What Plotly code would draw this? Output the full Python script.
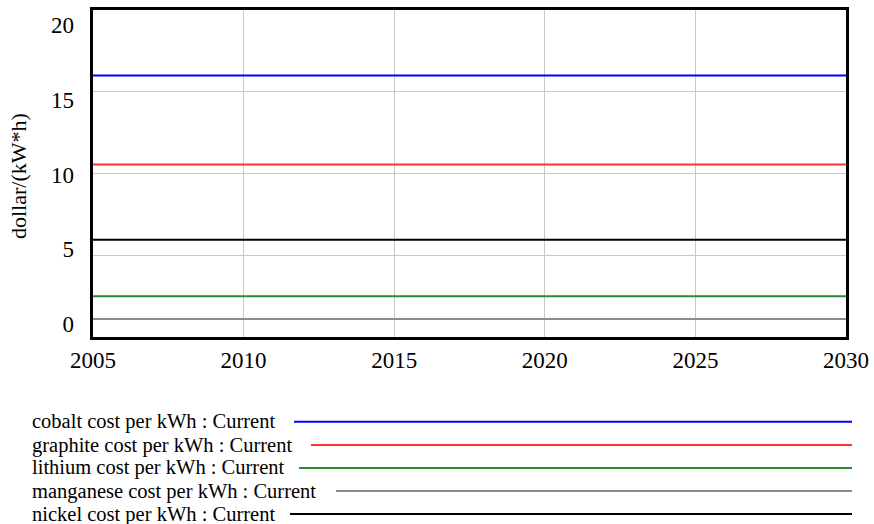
import plotly.graph_objects as go

# Simulation time span (constant runs over the whole horizon)
years = [2005, 2030]

# Material cost per kWh, dollar/(kW*h), run "Current"
series_names = [
    "cobalt cost per kWh : Current",
    "graphite cost per kWh : Current",
    "lithium cost per kWh : Current",
    "manganese cost per kWh : Current",
    "nickel cost per kWh : Current",
]
cobalt = [16.0, 16.0]
graphite = [10.55, 10.55]
lithium = [2.5, 2.5]
manganese = [1.1, 1.1]
nickel = [5.95, 5.95]

x_ticks = [2005, 2010, 2015, 2020, 2025, 2030]
y_ticks = [0, 5, 10, 15, 20]

colors = ["#0000ff", "#ff3333", "#2a8c2a", "#8c8c8c", "#000000"]
values = [cobalt, graphite, lithium, manganese, nickel]

W, H = 874, 524
M_L, M_R, M_T, M_B = 93, 28, 10, 187
PW, PH = W - M_L - M_R, H - M_T - M_B
FONT = "Liberation Serif"


def px_x(px):
    return (px - M_L) / PW


def px_y(py):
    return (H - M_B - py) / PH


fig = go.Figure()
for name, ys, col in zip(series_names, values, colors):
    fig.add_trace(go.Scatter(x=years, y=ys, mode="lines", name=name,
                             line=dict(color=col, width=2), showlegend=False))

# helper trace so the label axis is drawn
fig.add_trace(go.Scatter(x=[], y=[], yaxis="y2", showlegend=False, hoverinfo="skip"))

fig.update_layout(
    width=W, height=H,
    margin=dict(l=M_L, r=M_R, t=M_T, b=M_B, autoexpand=False),
    paper_bgcolor="white", plot_bgcolor="white",
    font=dict(family=FONT, color="black"),
    xaxis=dict(range=[2005, 2030], tickvals=x_ticks, ticktext=[str(v) for v in x_ticks],
               showgrid=True, gridcolor="#c8c8c8", gridwidth=1, zeroline=False,
               showline=True, linecolor="black", linewidth=3, mirror=True, automargin=False,
               ticks="", tickfont=dict(size=23, family=FONT), ticklabelstandoff=0),
    yaxis=dict(range=[0, 20], tickvals=y_ticks, showticklabels=False, automargin=False,
               showgrid=True, gridcolor="#c8c8c8", gridwidth=1, zeroline=False,
               showline=True, linecolor="black", linewidth=3, mirror=True, ticks=""),
    yaxis2=dict(overlaying="y", side="left", range=[-0.87, 21.0], tickvals=y_ticks,
                ticktext=[str(v) for v in y_ticks], showgrid=False, zeroline=False,
                showline=False, ticks="", tickfont=dict(size=23, family=FONT),
                ticklabelstandoff=18, automargin=False),
)

# y-axis title
fig.add_annotation(text="dollar/(kW*h)", xref="paper", yref="paper",
                   x=px_x(18), y=px_y(176), textangle=-90, showarrow=False,
                   xanchor="center", yanchor="middle",
                   font=dict(size=22, family=FONT, color="black"))

# legend rows below the chart: label followed by a line sample
row_y = [421.7, 445, 468, 491, 514]
line_start = [294, 311, 299, 336, 290]
for name, col, ry, xs in zip(series_names, colors, row_y, line_start):
    fig.add_annotation(text=name, xref="paper", yref="paper", x=px_x(30), y=px_y(ry),
                       xanchor="left", yanchor="middle", showarrow=False,
                       font=dict(size=20.5, family=FONT, color="black"))
    fig.add_shape(type="line", xref="paper", yref="paper",
                  x0=px_x(xs), x1=px_x(852), y0=px_y(ry), y1=px_y(ry),
                  line=dict(color=col, width=2))

fig.write_html("out.html")
